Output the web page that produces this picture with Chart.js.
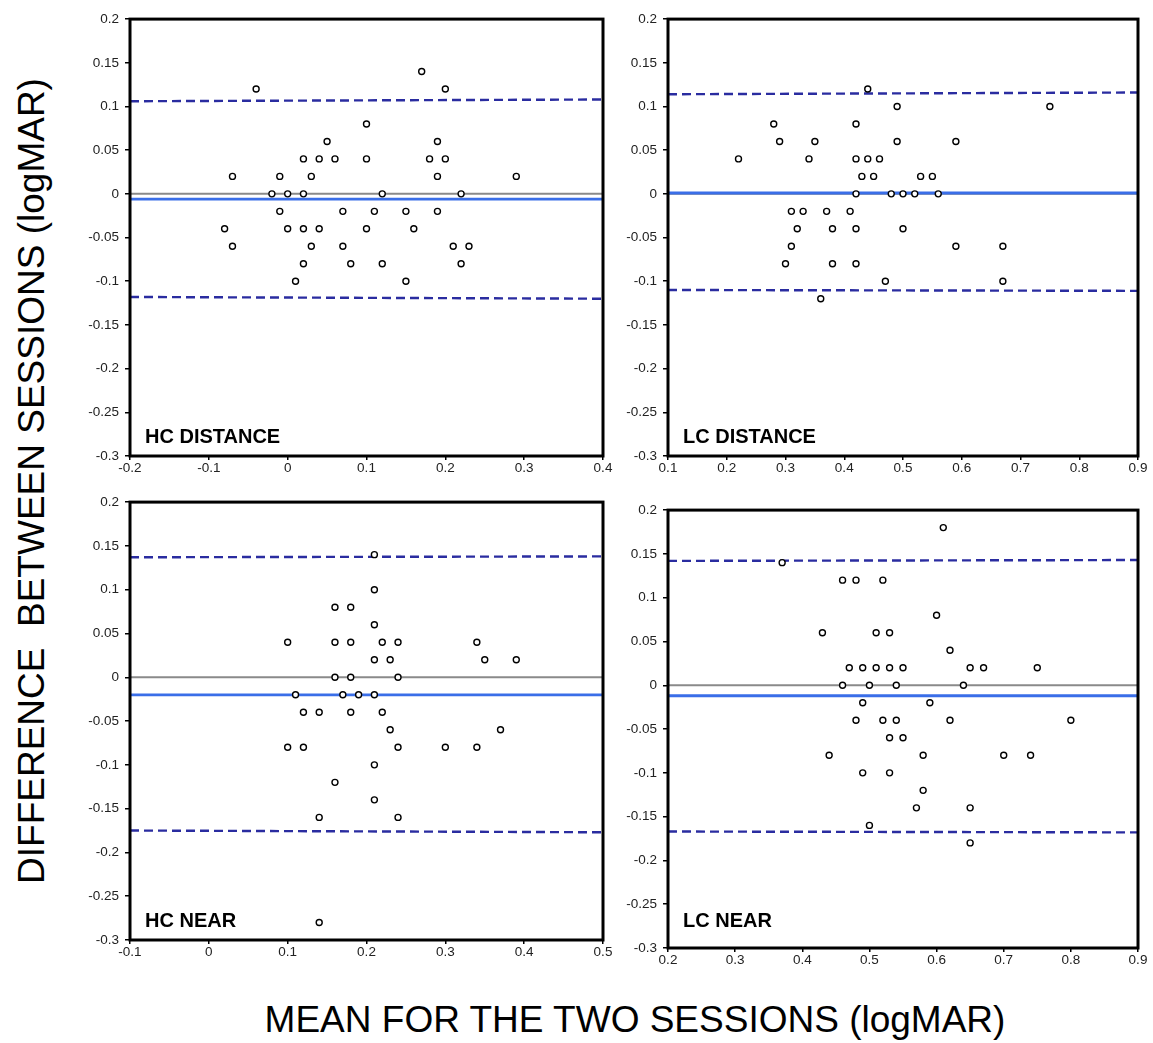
<!DOCTYPE html>
<html>
<head>
<meta charset="utf-8">
<script src="https://cdn.jsdelivr.net/npm/chart.js@4.4.0/dist/chart.umd.min.js"></script>
<style>
body { margin: 0; background: #fff; width: 1153px; height: 1043px; position: relative; overflow: hidden; font-family: "Liberation Sans", Arial, sans-serif; }
canvas { position: absolute; }
.title { position: absolute; font-size: 37px; line-height: 40px; color: #000; text-align: center; white-space: pre; }
#ytitle { left: -418px; top: 461px; width: 900px; transform: rotate(-90deg); }
#xtitle { left: 135px; top: 1000px; width: 1000px; }
</style>
</head>
<body>
<div class="title" id="ytitle">DIFFERENCE  BETWEEN SESSIONS (logMAR)</div>
<div class="title" id="xtitle">MEAN FOR THE TWO SESSIONS (logMAR)</div>
<script>
// HC distance
const hcDistX = [-0.04, 0.05, 0.02, 0.04, 0.06, -0.07, -0.01, 0.03, -0.02, 0, 0.02, -0.01, 0.07, -0.08, 0, 0.02, 0.04, -0.07, 0.03, 0.07, 0.02, 0.08, 0.01,
  0.2, 0.1, 0.19, 0.1, 0.18, 0.2, 0.19, 0.29, 0.12, 0.22, 0.11, 0.15, 0.19, 0.1, 0.16, 0.21, 0.23, 0.12, 0.22, 0.15, 0.17];
const hcDistY = [0.12, 0.06, 0.04, 0.04, 0.04, 0.02, 0.02, 0.02, 0, 0, 0, -0.02, -0.02, -0.04, -0.04, -0.04, -0.04, -0.06, -0.06, -0.06, -0.08, -0.08, -0.1,
  0.12, 0.08, 0.06, 0.04, 0.04, 0.04, 0.02, 0.02, 0, 0, -0.02, -0.02, -0.02, -0.04, -0.04, -0.06, -0.06, -0.08, -0.08, -0.1, 0.14];
const hcDistMean = -0.006;
const hcDistUpper = [0.106, 0.108];
const hcDistLower = [-0.118, -0.120];

// LC distance
const lcDistX = [0.44, 0.28, 0.42, 0.29, 0.35, 0.22, 0.34, 0.42, 0.44, 0.46, 0.43, 0.45, 0.42, 0.48, 0.31, 0.33, 0.37, 0.41, 0.32, 0.38, 0.42, 0.31, 0.30, 0.38, 0.42, 0.47, 0.36,
  0.49, 0.75, 0.49, 0.59, 0.53, 0.55, 0.5, 0.52, 0.56, 0.5, 0.59, 0.67, 0.67];
const lcDistY = [0.12, 0.08, 0.08, 0.06, 0.06, 0.04, 0.04, 0.04, 0.04, 0.04, 0.02, 0.02, 0, 0, -0.02, -0.02, -0.02, -0.02, -0.04, -0.04, -0.04, -0.06, -0.08, -0.08, -0.08, -0.1, -0.12,
  0.1, 0.1, 0.06, 0.06, 0.02, 0.02, 0, 0, 0, -0.04, -0.06, -0.06, -0.1];
const lcDistMean = 0.001;
const lcDistUpper = [0.114, 0.116];
const lcDistLower = [-0.110, -0.111];

// HC near
const hcNearX = [0.16, 0.18, 0.1, 0.16, 0.18, 0.16, 0.18, 0.11, 0.17, 0.19, 0.12, 0.14, 0.18, 0.1, 0.12,
  0.21, 0.21, 0.21, 0.22, 0.24, 0.34, 0.21, 0.23, 0.35, 0.39, 0.24, 0.21, 0.22, 0.23, 0.37, 0.24, 0.3, 0.34,
  0.21, 0.16, 0.21, 0.14, 0.24, 0.14];
const hcNearY = [0.08, 0.08, 0.04, 0.04, 0.04, 0, 0, -0.02, -0.02, -0.02, -0.04, -0.04, -0.04, -0.08, -0.08,
  0.14, 0.1, 0.06, 0.04, 0.04, 0.04, 0.02, 0.02, 0.02, 0.02, 0, -0.02, -0.04, -0.06, -0.06, -0.08, -0.08, -0.08,
  -0.1, -0.12, -0.14, -0.16, -0.16, -0.28];
const hcNearMean = -0.02;
const hcNearUpper = [0.137, 0.138];
const hcNearLower = [-0.175, -0.177];

// LC near
const lcNearX = [0.37, 0.46, 0.48, 0.52, 0.43, 0.51, 0.53, 0.47, 0.49, 0.51, 0.53, 0.46, 0.5, 0.54, 0.49, 0.48, 0.52, 0.54, 0.53,
  0.61, 0.6, 0.62, 0.55, 0.65, 0.67, 0.75, 0.64, 0.59, 0.62, 0.8, 0.55,
  0.44, 0.58, 0.7, 0.74, 0.49, 0.53, 0.58, 0.57, 0.65, 0.5, 0.65];
const lcNearY = [0.14, 0.12, 0.12, 0.12, 0.06, 0.06, 0.06, 0.02, 0.02, 0.02, 0.02, 0, 0, 0, -0.02, -0.04, -0.04, -0.04, -0.06,
  0.18, 0.08, 0.04, 0.02, 0.02, 0.02, 0.02, 0, -0.02, -0.04, -0.04, -0.06,
  -0.08, -0.08, -0.08, -0.08, -0.1, -0.1, -0.12, -0.14, -0.14, -0.16, -0.18];
const lcNearMean = -0.012;
const lcNearUpper = [0.142, 0.143];
const lcNearLower = [-0.167, -0.168];

const FONT = '"Liberation Sans", Arial, sans-serif';

function pts(xs, ys) {
  return xs.map((x, i) => ({ x: x, y: ys[i] }));
}

function fmt(v) {
  return String(parseFloat(Number(v).toFixed(2)));
}

const framePlugin = {
  id: 'frame',
  afterDraw(chart, args, opts) {
    const a = chart.chartArea, ctx = chart.ctx;
    ctx.save();
    ctx.lineWidth = 3;
    ctx.strokeStyle = '#000';
    ctx.strokeRect(a.left, a.top, a.right - a.left, a.bottom - a.top);
    ctx.font = 'bold 20px ' + FONT;
    ctx.fillStyle = '#000';
    ctx.textBaseline = 'alphabetic';
    ctx.fillText(opts.text, a.left + 15, a.bottom - opts.dy);
    ctx.restore();
  }
};

function makePanel(box, xMin, xMax, xs, ys, mean, upper, lower, label, labelDy) {
  const cv = document.createElement('canvas');
  cv.width = box.r - box.l + 85;
  cv.height = box.b - box.t + 42;
  cv.style.left = (box.l - 70) + 'px';
  cv.style.top = (box.t - 12) + 'px';
  document.body.appendChild(cv);

  const dashed = { showLine: true, borderColor: '#2a2ca0', borderWidth: 2.4, borderDash: [9, 5], pointRadius: 0 };

  new Chart(cv.getContext('2d'), {
    type: 'scatter',
    data: {
      datasets: [
        { data: pts(xs, ys), pointRadius: 3, pointBorderWidth: 1.4, pointBorderColor: '#000', pointBackgroundColor: '#fff' },
        { data: [{ x: xMin, y: mean }, { x: xMax, y: mean }], showLine: true, borderColor: '#3a6ee8', borderWidth: 2.8, pointRadius: 0 },
        Object.assign({ data: [{ x: xMin, y: upper[0] }, { x: xMax, y: upper[1] }] }, dashed),
        Object.assign({ data: [{ x: xMin, y: lower[0] }, { x: xMax, y: lower[1] }] }, dashed),
        { data: [{ x: xMin, y: 0 }, { x: xMax, y: 0 }], showLine: true, borderColor: '#8a8a8a', borderWidth: 2, pointRadius: 0 }
      ]
    },
    options: {
      responsive: false,
      animation: false,
      layout: { padding: { top: 12, right: 15, left: 0, bottom: 0 } },
      plugins: { legend: { display: false }, tooltip: { enabled: false }, frame: { text: label, dy: labelDy } },
      scales: {
        x: {
          type: 'linear', min: xMin, max: xMax,
          ticks: { stepSize: 0.1, callback: fmt, color: '#222', font: { size: 13.5, family: FONT }, padding: 0, maxRotation: 0 },
          grid: { drawOnChartArea: false, color: '#000', tickLength: 4, lineWidth: 1.5 },
          border: { display: false },
          afterFit: s => { s.height = 30; }
        },
        y: {
          type: 'linear', min: -0.3, max: 0.2,
          ticks: { stepSize: 0.05, callback: fmt, color: '#222', font: { size: 13.5, family: FONT }, padding: 6 },
          grid: { drawOnChartArea: false, color: '#000', tickLength: 5, lineWidth: 1.5 },
          border: { display: false },
          afterFit: s => { s.width = 70; }
        }
      }
    },
    plugins: [framePlugin]
  });
}

makePanel({ l: 130, t: 17, r: 603, b: 456 }, -0.2, 0.4, hcDistX, hcDistY, hcDistMean, hcDistUpper, hcDistLower, 'HC DISTANCE', 13);
makePanel({ l: 668, t: 17, r: 1138, b: 456 }, 0.1, 0.9, lcDistX, lcDistY, lcDistMean, lcDistUpper, lcDistLower, 'LC DISTANCE', 13);
makePanel({ l: 130, t: 500, r: 603, b: 940 }, -0.1, 0.5, hcNearX, hcNearY, hcNearMean, hcNearUpper, hcNearLower, 'HC NEAR', 13);
makePanel({ l: 668, t: 508, r: 1138, b: 948 }, 0.2, 0.9, lcNearX, lcNearY, lcNearMean, lcNearUpper, lcNearLower, 'LC NEAR', 21);
</script>
</body>
</html>
